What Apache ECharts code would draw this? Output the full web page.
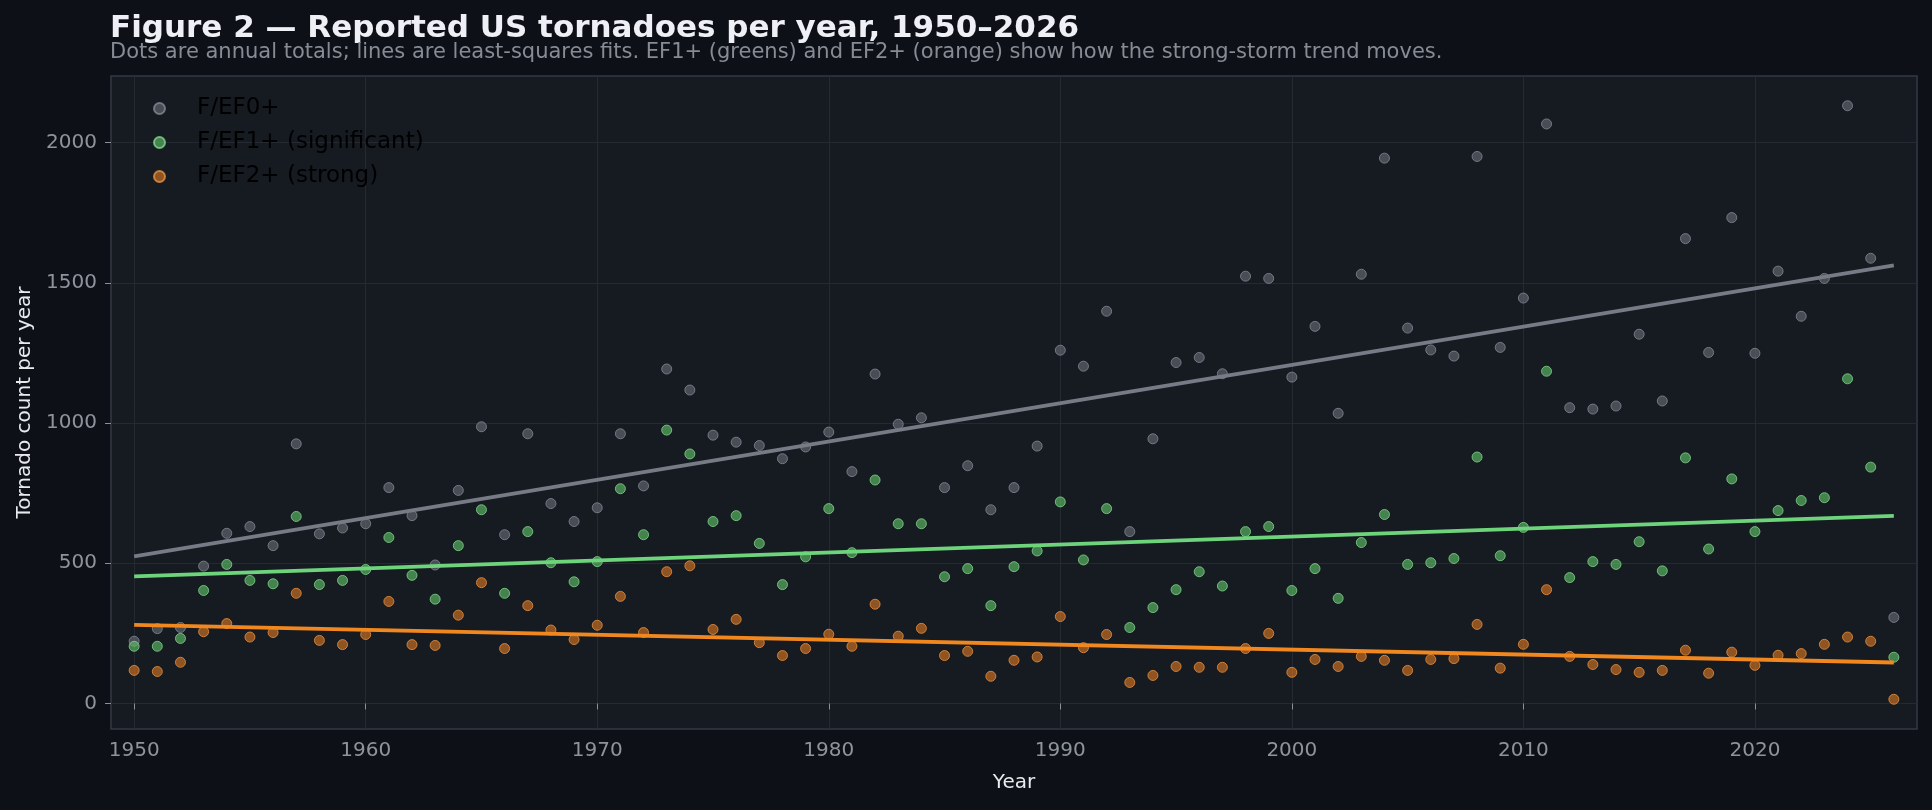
<!DOCTYPE html>
<html>
<head>
    <title>Reported US tornadoes per year</title>
    <meta charset="utf-8">
    <script src="https://cdn.jsdelivr.net/npm/echarts@6/dist/echarts.min.js"></script>
    <style>
        html, body { margin: 0; padding: 0; background: #0d1017; }
    </style>
</head>
<body>
    <div id="main" style="width: 1932px;height:810px;"></div>

    <script type="text/javascript">
        // annual totals, 1950-2026
        var years = [];
        for (var y = 1950; y <= 2026; y++) years.push(y);

        var ef0 = [222, 267, 271, 490, 607, 631, 563, 926, 605, 626,
                   641, 770, 670, 494, 760, 987, 602, 962, 713, 649,
                   698, 962, 776, 1193, 1118, 957, 932, 920, 873, 915,
                   968, 827, 1175, 996, 1019, 770, 848, 691, 770, 918,
                   1260, 1203, 1399, 613, 944, 1216, 1234, 1176, 1524, 1516,
                   1164, 1345, 1035, 1531, 1945, 1339, 1261, 1239, 1951, 1270,
                   1446, 2067, 1055, 1050, 1061, 1317, 1079, 1658, 1252, 1733,
                   1249, 1542, 1381, 1516, 2132, 1588, 307];
        var ef1 = [204, 204, 232, 403, 496, 439, 427, 667, 424, 439,
                   478, 592, 457, 372, 563, 691, 393, 613, 502, 434,
                   506, 766, 602, 975, 890, 649, 670, 571, 424, 523,
                   695, 538, 797, 641, 641, 452, 481, 349, 488, 544,
                   719, 512, 695, 271, 342, 406, 470, 419, 613, 631,
                   403, 481, 375, 574, 674, 496, 502, 517, 879, 527,
                   628, 1185, 449, 506, 496, 577, 473, 876, 551, 801,
                   613, 688, 724, 734, 1158, 843, 165];
        var ef2 = [118, 114, 147, 256, 285, 237, 253, 393, 225, 210,
                   246, 364, 210, 207, 315, 431, 196, 349, 262, 228,
                   279, 382, 253, 470, 491, 264, 300, 217, 171, 196,
                   247, 204, 354, 240, 268, 171, 186, 97, 154, 166,
                   310, 199, 246, 75, 100, 132, 129, 129, 196, 250,
                   111, 157, 132, 168, 154, 118, 157, 160, 282, 126,
                   211, 406, 168, 139, 121, 111, 118, 190, 108, 183,
                   136, 172, 178, 211, 237, 222, 15];

        var seriesNames = ['F/EF0+', 'F/EF1+ (significant)', 'F/EF2+ (strong)'];
        var xTicks = [1950, 1960, 1970, 1980, 1990, 2000, 2010, 2020];
        var yTicks = [0, 500, 1000, 1500, 2000];

        var dotFill = ['rgba(108,112,122,0.75)', 'rgba(95,190,105,0.8)', 'rgba(214,118,36,0.8)'];
        var dotEdge = ['#838892', '#7fd68a', '#e8913f'];
        var lineColor = ['#767b85', '#6dd47c', '#f0871f'];

        function pairs(vals) {
            return vals.map(function(v, i) { return [years[i], v]; });
        }

        // ordinary least squares fit, drawn across the span of years
        function fitLine(vals) {
            var n = vals.length, mx = 0, my = 0;
            for (var i = 0; i < n; i++) { mx += years[i]; my += vals[i]; }
            mx /= n; my /= n;
            var sxy = 0, sxx = 0;
            for (var j = 0; j < n; j++) {
                sxy += (years[j] - mx) * (vals[j] - my);
                sxx += (years[j] - mx) * (years[j] - mx);
            }
            var b = sxy / sxx, a = my - b * mx;
            var x0 = years[0], x1 = years[n - 1];
            return [[x0, a + b * x0], [x1, a + b * x1]];
        }

        var allVals = [ef0, ef1, ef2];
        var series = [];
        allVals.forEach(function(vals, k) {
            series.push({
                name: seriesNames[k],
                type: 'scatter',
                symbolSize: 10,
                z: 2,
                itemStyle: { color: dotFill[k], borderColor: dotEdge[k], borderWidth: 1 },
                data: pairs(vals)
            });
        });
        allVals.forEach(function(vals, k) {
            series.push({
                name: seriesNames[k] + ' fit',
                type: 'line',
                showSymbol: false,
                silent: true,
                z: 3,
                lineStyle: { color: lineColor[k], width: 3.8 },
                data: fitLine(vals)
            });
        });

        function plain(v) { return String(v); }

        var myChart = echarts.init(document.getElementById('main'));

        var option = {
            backgroundColor: '#0d1017',
            animation: false,
            textStyle: { fontFamily: 'DejaVu Sans' },
            title: [{
                text: 'Figure 2 — Reported US tornadoes per year, 1950–2026',
                left: 110,
                top: 13,
                padding: 0,
                textStyle: { color: '#eef0f5', fontSize: 31, fontWeight: 'bold', fontFamily: 'DejaVu Sans' }
            }, {
                text: 'Dots are annual totals; lines are least-squares fits. EF1+ (greens) and EF2+ (orange) show how the strong-storm trend moves.',
                left: 110,
                top: 42,
                padding: 0,
                textStyle: { color: '#868b94', fontSize: 21, fontWeight: 'normal', fontFamily: 'DejaVu Sans' }
            }],
            legend: {
                data: seriesNames,
                orient: 'vertical',
                left: 148,
                top: 92,
                itemGap: 11,
                itemWidth: 11,
                itemHeight: 11,
                icon: 'circle',
                textStyle: { color: '#000000', fontSize: 23, padding: [0, 0, 0, 27] }
            },
            grid: {
                show: true,
                left: 111,
                right: 15,
                top: 76,
                bottom: 81,
                backgroundColor: '#161a21',
                borderColor: '#343944',
                borderWidth: 1.5
            },
            xAxis: {
                type: 'value',
                min: 1949,
                max: 2027,
                name: 'Year',
                nameLocation: 'middle',
                nameGap: 44,
                nameTextStyle: { color: '#e8eaee', fontSize: 20 },
                axisLine: { show: false },
                axisTick: { show: true, length: 6, lineStyle: { color: '#8a8f98' }, customValues: xTicks },
                axisLabel: { color: '#8f949c', fontSize: 20, margin: 12, customValues: xTicks, formatter: plain },
                splitLine: { show: true, lineStyle: { color: '#252a32', width: 1 } }
            },
            yAxis: {
                type: 'value',
                min: -91,
                max: 2238,
                name: 'Tornado count per year',
                nameLocation: 'middle',
                nameGap: 75,
                nameTextStyle: { color: '#e8eaee', fontSize: 20 },
                axisLine: { show: false },
                axisTick: { show: true, length: 6, lineStyle: { color: '#8a8f98' }, customValues: yTicks },
                axisLabel: { color: '#8f949c', fontSize: 20, margin: 14, customValues: yTicks, formatter: plain },
                splitLine: { show: true, lineStyle: { color: '#252a32', width: 1 } }
            },
            series: series
        };

        myChart.setOption(option);
    </script>
</body>
</html>
